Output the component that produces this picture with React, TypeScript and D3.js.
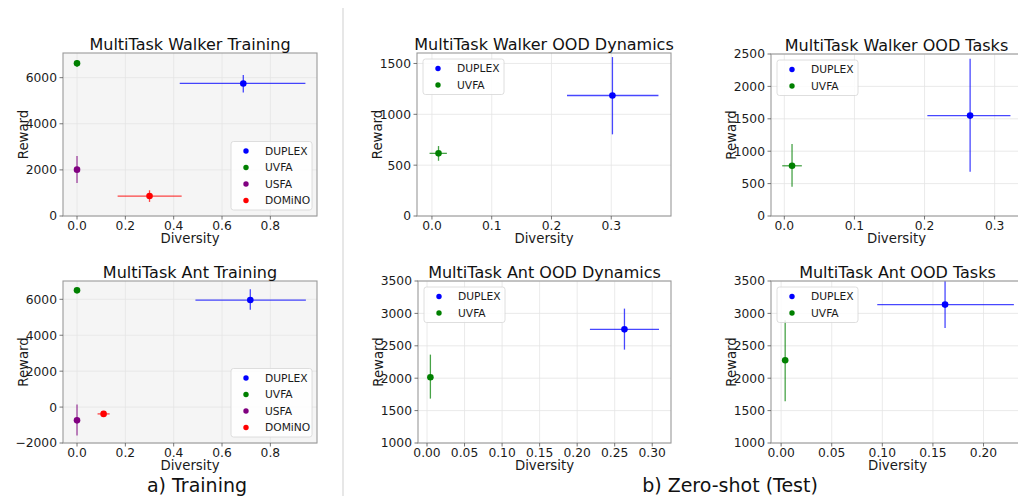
import * as d3 from "d3";

// methods and colours
const methods = ["DUPLEX", "UVFA", "USFA", "DOMiNO"];
const methodColors = ["#0000ff", "#008000", "#800080", "#ff0000"];

// a) Training — Walker
const walkerTrainX = [0.688, 0.0, 0.0, 0.30];
const walkerTrainY = [5750, 6620, 2010, 865];
const walkerTrainXLo = [0.425, 0.0, 0.0, 0.168];
const walkerTrainXHi = [0.945, 0.0, 0.0, 0.433];
const walkerTrainYLo = [5360, 6470, 1435, 610];
const walkerTrainYHi = [6120, 6770, 2600, 1115];

// a) Training — Ant
const antTrainX = [0.717, 0.0, 0.0, 0.11];
const antTrainY = [5960, 6500, -740, -380];
const antTrainXLo = [0.49, 0.0, 0.0, 0.085];
const antTrainXHi = [0.947, 0.0, 0.0, 0.135];
const antTrainYLo = [5420, 6420, -1580, -440];
const antTrainYHi = [6560, 6580, 140, -320];

// b) Zero-shot — Walker OOD Dynamics
const walkerDynX = [0.302, 0.011];
const walkerDynY = [1185, 616];
const walkerDynXLo = [0.226, -0.004];
const walkerDynXHi = [0.379, 0.025];
const walkerDynYLo = [803, 543];
const walkerDynYHi = [1563, 688];

// b) Zero-shot — Walker OOD Tasks
const walkerTaskX = [0.265, 0.011];
const walkerTaskY = [1549, 775];
const walkerTaskXLo = [0.204, -0.003];
const walkerTaskXHi = [0.3225, 0.025];
const walkerTaskYLo = [682, 450];
const walkerTaskYHi = [2427, 1110];

// b) Zero-shot — Ant OOD Dynamics
const antDynX = [0.263, 0.0045];
const antDynY = [2754, 2015];
const antDynXLo = [0.217, 0.0045];
const antDynXHi = [0.309, 0.0045];
const antDynYLo = [2441, 1685];
const antDynYHi = [3074, 2364];

// b) Zero-shot — Ant OOD Tasks
const antTaskX = [0.162, 0.004];
const antTaskY = [3136, 2276];
const antTaskXLo = [0.095, 0.004];
const antTaskXHi = [0.23, 0.004];
const antTaskYLo = [2775, 1643];
const antTaskYHi = [3500, 2893];

// tick values
const trainXTicks = [0, 0.2, 0.4, 0.6, 0.8];
const walkerTrainYTicks = [0, 2000, 4000, 6000];
const antTrainYTicks = [-2000, 0, 2000, 4000, 6000];
const walkerDynXTicks = [0, 0.1, 0.2, 0.3];
const walkerDynYTicks = [0, 500, 1000, 1500];
const walkerTaskYTicks = [0, 500, 1000, 1500, 2000, 2500];
const antDynXTicks = [0, 0.05, 0.1, 0.15, 0.2, 0.25, 0.3];
const antTaskXTicks = [0, 0.05, 0.1, 0.15, 0.2];
const antOodYTicks = [1000, 1500, 2000, 2500, 3000, 3500];

const FONT = "DejaVu Sans, sans-serif";

type PanelProps = {
  id: string;
  title: string;
  left: number; right: number; top: number; bottom: number;
  xDomain: [number, number]; yDomain: [number, number];
  xTicks: number[]; yTicks: number[]; xFmt: string;
  x: number[]; y: number[]; xLo: number[]; xHi: number[]; yLo: number[]; yHi: number[];
  bg: string;
  legendPos: "lr" | "ul";
};

const Panel = (p: PanelProps) => {
  const xs = d3.scaleLinear().domain(p.xDomain).range([p.left, p.right]);
  const ys = d3.scaleLinear().domain(p.yDomain).range([p.bottom, p.top]);
  const xf = d3.format(p.xFmt);
  const yf = d3.format("d");
  const n = p.x.length;
  const legW = 81;
  const legH = 19 + (n - 1) * 16.5;
  const legX = p.legendPos === "lr" ? p.right - 5 - legW : p.left + 6;
  const legY = p.legendPos === "lr" ? p.bottom - 6 - legH : p.top + 6;
  return (
    <g>
      <defs>
        <clipPath id={p.id}>
          <rect x={p.left} y={p.top} width={p.right - p.left} height={p.bottom - p.top} />
        </clipPath>
      </defs>
      <rect x={p.left} y={p.top} width={p.right - p.left} height={p.bottom - p.top} fill={p.bg} />
      {p.xTicks.map((t) => (
        <line key={"gx" + t} x1={xs(t)} x2={xs(t)} y1={p.top} y2={p.bottom} stroke="#e4e4e4" strokeWidth={0.8} />
      ))}
      {p.yTicks.map((t) => (
        <line key={"gy" + t} x1={p.left} x2={p.right} y1={ys(t)} y2={ys(t)} stroke="#e4e4e4" strokeWidth={0.8} />
      ))}
      <g clipPath={`url(#${p.id})`}>
        {p.x.map((_, i) => (
          <g key={i} stroke={methodColors[i]} strokeWidth={1.3} strokeOpacity={0.72}>
            <line x1={xs(p.xLo[i])} x2={xs(p.xHi[i])} y1={ys(p.y[i])} y2={ys(p.y[i])} />
            <line x1={xs(p.x[i])} x2={xs(p.x[i])} y1={ys(p.yLo[i])} y2={ys(p.yHi[i])} />
          </g>
        ))}
        {p.x.map((_, i) => (
          <circle key={"c" + i} cx={xs(p.x[i])} cy={ys(p.y[i])} r={3.3} fill={methodColors[i]} />
        ))}
      </g>
      <rect x={p.left} y={p.top} width={p.right - p.left} height={p.bottom - p.top} fill="none" stroke="#9a9a9a" strokeWidth={1.1} />
      {p.xTicks.map((t) => (
        <g key={"tx" + t}>
          <line x1={xs(t)} x2={xs(t)} y1={p.bottom} y2={p.bottom + 3.5} stroke="#555" strokeWidth={0.8} />
          <text x={xs(t)} y={p.bottom + 14} textAnchor="middle" fontSize={12.3} fontFamily={FONT} fill="#1a1a1a">{xf(t)}</text>
        </g>
      ))}
      {p.yTicks.map((t) => (
        <g key={"ty" + t}>
          <line x1={p.left - 3.5} x2={p.left} y1={ys(t)} y2={ys(t)} stroke="#555" strokeWidth={0.8} />
          <text x={p.left - 6} y={ys(t)} dy="0.36em" textAnchor="end" fontSize={12.3} fontFamily={FONT} fill="#1a1a1a">{yf(t)}</text>
        </g>
      ))}
      <text x={(p.left + p.right) / 2} y={p.top - 3.5} textAnchor="middle" fontSize={16} fontFamily={FONT} fill="#111">{p.title}</text>
      <text x={(p.left + p.right) / 2} y={p.bottom + 27} textAnchor="middle" fontSize={13.3} fontFamily={FONT} fill="#1a1a1a">Diversity</text>
      <text transform={`translate(${p.left - 35},${(p.top + p.bottom) / 2}) rotate(-90)`} textAnchor="middle" fontSize={13.3} fontFamily={FONT} fill="#1a1a1a">Reward</text>
      <rect x={legX} y={legY} width={legW} height={legH} rx={2.5} fill="#fff" fillOpacity={0.85} stroke="#d6d6d6" strokeWidth={0.8} />
      {p.x.map((_, i) => (
        <g key={"l" + i}>
          <circle cx={legX + 15} cy={legY + 9.5 + i * 16.5} r={2.7} fill={methodColors[i]} />
          <text x={legX + 34} y={legY + 9.5 + i * 16.5} dy="0.36em" fontSize={10.7} fontFamily={FONT} fill="#1a1a1a">{methods[i]}</text>
        </g>
      ))}
    </g>
  );
};

const App = () => {
  return (
    <div style={{ position: "absolute", left: 0, top: 0 }}>
      <svg width={1018} height={496} style={{ display: "block", background: "#fff" }}>
        <line x1={343} x2={343} y1={8} y2={496} stroke="#cfcfcf" strokeWidth={1} />
        <Panel id="p1" title="MultiTask Walker Training" left={63} right={317} top={53} bottom={216}
          xDomain={[-0.058, 0.993]} yDomain={[0, 7070]} xTicks={trainXTicks} yTicks={walkerTrainYTicks} xFmt=".1f"
          x={walkerTrainX} y={walkerTrainY} xLo={walkerTrainXLo} xHi={walkerTrainXHi} yLo={walkerTrainYLo} yHi={walkerTrainYHi}
          bg="#f5f5f5" legendPos="lr" />
        <Panel id="p2" title="MultiTask Ant Training" left={63} right={317} top={281} bottom={443}
          xDomain={[-0.058, 0.993]} yDomain={[-2000, 7020]} xTicks={trainXTicks} yTicks={antTrainYTicks} xFmt=".1f"
          x={antTrainX} y={antTrainY} xLo={antTrainXLo} xHi={antTrainXHi} yLo={antTrainYLo} yHi={antTrainYHi}
          bg="#f5f5f5" legendPos="lr" />
        <Panel id="p3" title="MultiTask Walker OOD Dynamics" left={417} right={671} top={53} bottom={216}
          xDomain={[-0.025, 0.4]} yDomain={[0, 1603]} xTicks={walkerDynXTicks} yTicks={walkerDynYTicks} xFmt=".1f"
          x={walkerDynX} y={walkerDynY} xLo={walkerDynXLo} xHi={walkerDynXHi} yLo={walkerDynYLo} yHi={walkerDynYHi}
          bg="#fff" legendPos="ul" />
        <Panel id="p4" title="MultiTask Walker OOD Tasks" left={771} right={1022} top={54} bottom={216}
          xDomain={[-0.019, 0.339]} yDomain={[0, 2500]} xTicks={walkerDynXTicks} yTicks={walkerTaskYTicks} xFmt=".1f"
          x={walkerTaskX} y={walkerTaskY} xLo={walkerTaskXLo} xHi={walkerTaskXHi} yLo={walkerTaskYLo} yHi={walkerTaskYHi}
          bg="#fff" legendPos="ul" />
        <Panel id="p5" title="MultiTask Ant OOD Dynamics" left={418} right={671} top={281} bottom={443}
          xDomain={[-0.012, 0.325]} yDomain={[1000, 3500]} xTicks={antDynXTicks} yTicks={antOodYTicks} xFmt=".2f"
          x={antDynX} y={antDynY} xLo={antDynXLo} xHi={antDynXHi} yLo={antDynYLo} yHi={antDynYHi}
          bg="#fff" legendPos="ul" />
        <Panel id="p6" title="MultiTask Ant OOD Tasks" left={771} right={1024} top={281} bottom={443}
          xDomain={[-0.01, 0.24]} yDomain={[1000, 3500]} xTicks={antTaskXTicks} yTicks={antOodYTicks} xFmt=".2f"
          x={antTaskX} y={antTaskY} xLo={antTaskXLo} xHi={antTaskXHi} yLo={antTaskYLo} yHi={antTaskYHi}
          bg="#fff" legendPos="ul" />
        <text x={197} y={492} textAnchor="middle" fontSize={19} fontFamily={FONT} fill="#111">a) Training</text>
        <text x={730} y={492} textAnchor="middle" fontSize={19} fontFamily={FONT} fill="#111">b) Zero-shot (Test)</text>
      </svg>
    </div>
  );
};

export default App;
